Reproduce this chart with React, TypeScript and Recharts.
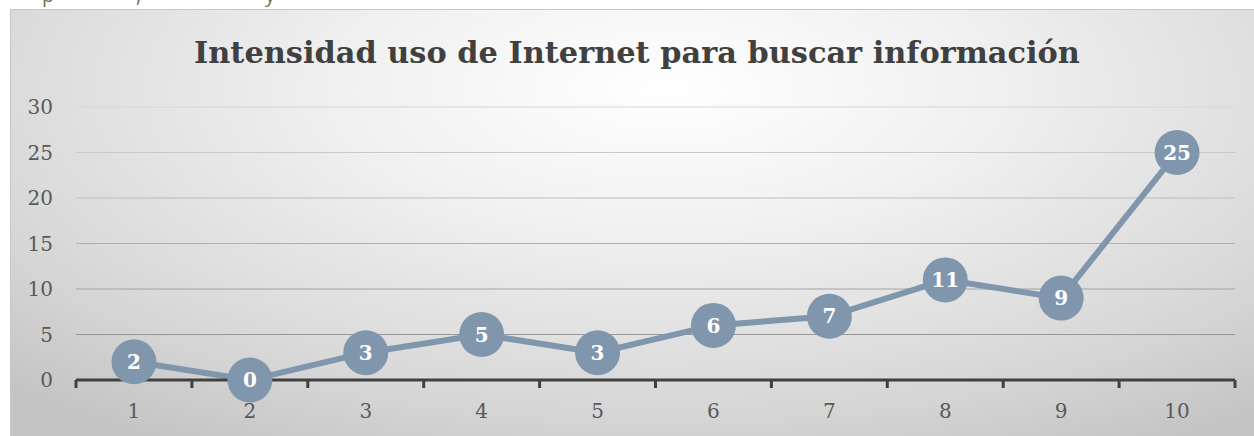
import React from 'react';
import { LineChart, Line, XAxis, YAxis, CartesianGrid, LabelList } from 'recharts';

const categories = ['1', '2', '3', '4', '5', '6', '7', '8', '9', '10'];
const values = [2, 0, 3, 5, 3, 6, 7, 11, 9, 25];
const yTicks = [0, 5, 10, 15, 20, 25, 30];
const title = 'Intensidad uso de Internet para buscar información';

const data = categories.map((c, i) => ({ cat: c, value: values[i] }));

const W = 1254;
const H = 436;
const M = { top: 107, right: 19, bottom: 16, left: 0 };
const Y_W = 76;
const PLOT_W = W - M.left - M.right - Y_W;
const HALF_BAND = PLOT_W / categories.length / 2;
const FONT = "'DejaVu Serif', serif";

const XTick = (props: any) => {
  const { x, y, payload, index } = props;
  const axisY = y - 8;
  const last = index === categories.length - 1;
  return (
    <g>
      <line x1={x - HALF_BAND} x2={x - HALF_BAND} y1={axisY} y2={axisY + 8} stroke="#404040" strokeWidth={3} />
      {last && (
        <line x1={x + HALF_BAND} x2={x + HALF_BAND} y1={axisY} y2={axisY + 8} stroke="#404040" strokeWidth={3} />
      )}
      <text x={x} y={y} dy={30} textAnchor="middle" fill="#595959" fontSize={20} fontFamily={FONT}>
        {payload.value}
      </text>
    </g>
  );
};

export default function App() {
  return (
    <div style={{ position: 'absolute', left: 0, top: 0, width: W, height: H, overflow: 'hidden', background: '#fff' }}>
      <div style={{ position: 'absolute', left: 0, top: -19, fontFamily: "'Open Sans', sans-serif", fontSize: 20, color: '#7b6f45', whiteSpace: 'nowrap' }}>
        <span style={{ position: 'absolute', left: 42 }}>p</span>
        <span style={{ position: 'absolute', left: 136 }}>,</span>
        <span style={{ position: 'absolute', left: 265 }}>y</span>
      </div>
      <div
        style={{
          position: 'absolute',
          left: 10,
          top: 9,
          width: 1260,
          height: 440,
          boxSizing: 'border-box',
          borderTop: '1px solid #c8c8c8',
          borderLeft: '1px solid #c8c8c8',
          background: 'radial-gradient(ellipse 75% 95% at 52% 18%, #ffffff 0%, #f0f0f0 35%, #d8d8d8 75%, #c4c4c4 100%)',
        }}
      />
      <div
        style={{
          position: 'absolute',
          left: 0,
          top: 34,
          width: W,
          textAlign: 'center',
          fontFamily: FONT,
          fontWeight: 'bold',
          fontSize: 30.4,
          lineHeight: '36px',
          color: '#404040',
          paddingLeft: 20,
          boxSizing: 'border-box',
          whiteSpace: 'nowrap',
        }}
      >
        {title}
      </div>
      <div style={{ position: 'absolute', left: 0, top: 0 }}>
        <LineChart width={W} height={H} data={data} margin={M}>
          <defs>
            <linearGradient id="gridGrad" gradientUnits="userSpaceOnUse" x1="0" y1="107" x2="0" y2="380">
              <stop offset="0%" stopColor="#d6d6d6" />
              <stop offset="100%" stopColor="#8a8a8a" />
            </linearGradient>
          </defs>
          <CartesianGrid vertical={false} stroke="url(#gridGrad)" strokeWidth={1.2} />
          <YAxis
            width={Y_W}
            domain={[0, 30]}
            ticks={yTicks}
            interval={0}
            axisLine={false}
            tickLine={false}
            tickSize={0}
            tickMargin={23}
            tick={{ fill: '#595959', fontSize: 20, fontFamily: FONT }}
          />
          <XAxis
            dataKey="cat"
            height={40}
            padding={{ left: HALF_BAND, right: HALF_BAND }}
            interval={0}
            axisLine={{ stroke: '#404040', strokeWidth: 3 }}
            tickLine={false}
            tickSize={6}
            tickMargin={2}
            tick={<XTick />}
          />
          <Line
            dataKey="value"
            stroke="#7f96ad"
            strokeWidth={6}
            dot={{ r: 22.5, fill: '#7f96ad', stroke: 'none' }}
            activeDot={false}
            isAnimationActive={false}
          >
            <LabelList
              dataKey="value"
              position="center"
              fill="#ffffff"
              fontSize={20}
              fontWeight="bold"
              fontFamily={FONT}
            />
          </Line>
        </LineChart>
      </div>
    </div>
  );
}
